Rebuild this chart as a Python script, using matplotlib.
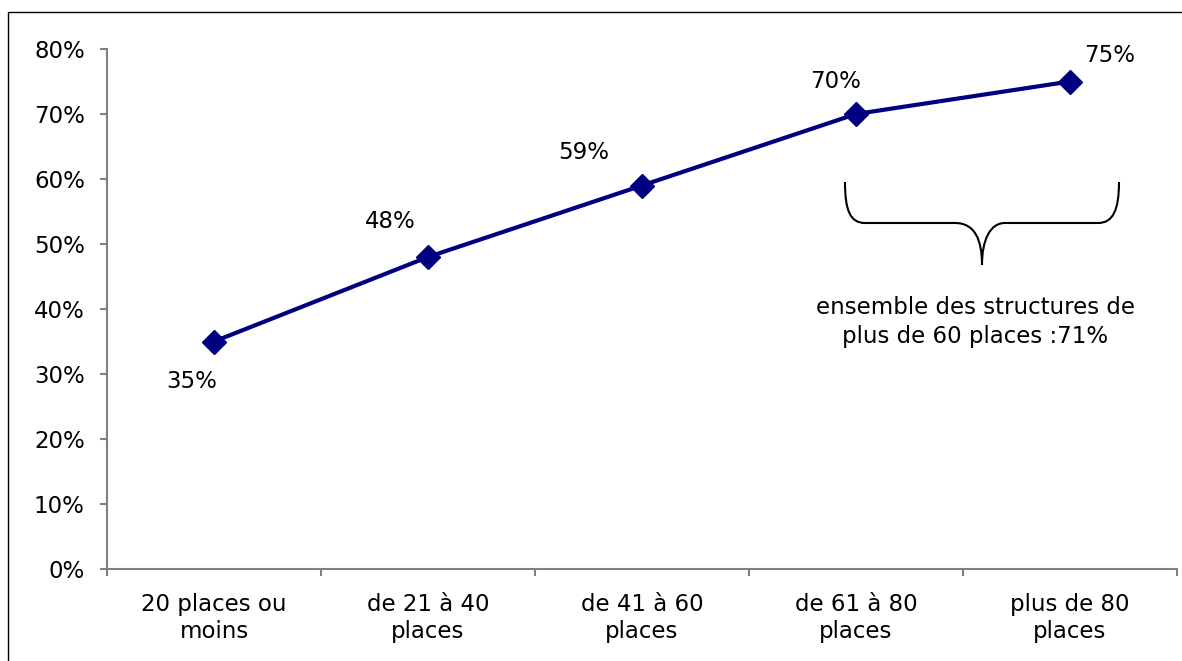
import matplotlib.pyplot as plt
from matplotlib.path import Path
from matplotlib.patches import PathPatch
from matplotlib.lines import Line2D
import numpy as np

categories = ["20 places ou\nmoins", "de 21 à 40\nplaces", "de 41 à 60\nplaces",
              "de 61 à 80\nplaces", "plus de 80\nplaces"]
taux = [35, 48, 59, 70, 75]
yticks = [0, 10, 20, 30, 40, 50, 60, 70, 80]
note = "ensemble des structures de\nplus de 60 places :71%"

W, H = 1182, 661
plt.rcParams['font.family'] = ['DejaVu Sans']
plt.rcParams['font.size'] = 16.5

fig = plt.figure(figsize=(W / 100, H / 100), dpi=100)
ax = fig.add_axes([107 / W, 1 - 569 / H, (1177 - 107) / W, (569 - 49) / H])

x = np.arange(len(categories))
ax.plot(x, taux, color='#000080', lw=3, marker='D', ms=12, zorder=3)

# value labels, placed around each point (offsets in pixels)
offsets = [(-22, -40), (-38, 35), (-58, 33), (-20, 32), (40, 26)]
for xi, v, (dx, dy) in zip(x, taux, offsets):
    ax.annotate(f"{v}%", (xi, v), xytext=(dx * 0.72, dy * 0.72), textcoords='offset points',
                ha='center', va='center')

ax.set_xlim(-0.5, len(categories) - 0.5)
ax.set_ylim(0, 80)
ax.set_yticks(yticks)
ax.set_yticklabels([f"{t}%" for t in yticks])
ax.set_xticks(x)
ax.set_xticklabels(categories, linespacing=1.25)
ax.set_xticks(np.arange(len(categories) + 1) - 0.5, minor=True)
ax.tick_params(axis='x', which='major', length=0, pad=17)
ax.tick_params(axis='x', which='minor', length=5, width=1.5, color='#808080', direction='out')
ax.tick_params(axis='y', length=5, width=1.5, color='#808080', direction='out', pad=11)

for side in ['top', 'right']:
    ax.spines[side].set_visible(False)
for side in ['left', 'bottom']:
    ax.spines[side].set_color('#808080')
    ax.spines[side].set_linewidth(1.5)

# curly brace over the two last groups (figure pixel coordinates)
pts = [(845, 182), (845, 210), (850, 223), (865, 223),
       (955, 223),
       (975, 223), (982, 240), (982, 265),
       (982, 240), (990, 223), (1005, 223),
       (1098, 223),
       (1113, 223), (1119, 210), (1119, 182)]
codes = [Path.MOVETO, Path.CURVE4, Path.CURVE4, Path.CURVE4,
         Path.LINETO,
         Path.CURVE4, Path.CURVE4, Path.CURVE4,
         Path.CURVE4, Path.CURVE4, Path.CURVE4,
         Path.LINETO,
         Path.CURVE4, Path.CURVE4, Path.CURVE4]
brace = Path([(px / W, 1 - py / H) for px, py in pts], codes)
fig.add_artist(PathPatch(brace, fill=False, lw=1.5, ec='black', transform=fig.transFigure))
fig.text(975 / W, 1 - 322 / H, note, ha='center', va='center', linespacing=1.35)

# outer frame
fig.add_artist(Line2D([8 / W, 8 / W, 1], [0, 1 - 12 / H, 1 - 12 / H],
                      color='black', lw=1, transform=fig.transFigure))

fig.savefig("out.png", dpi=100)
